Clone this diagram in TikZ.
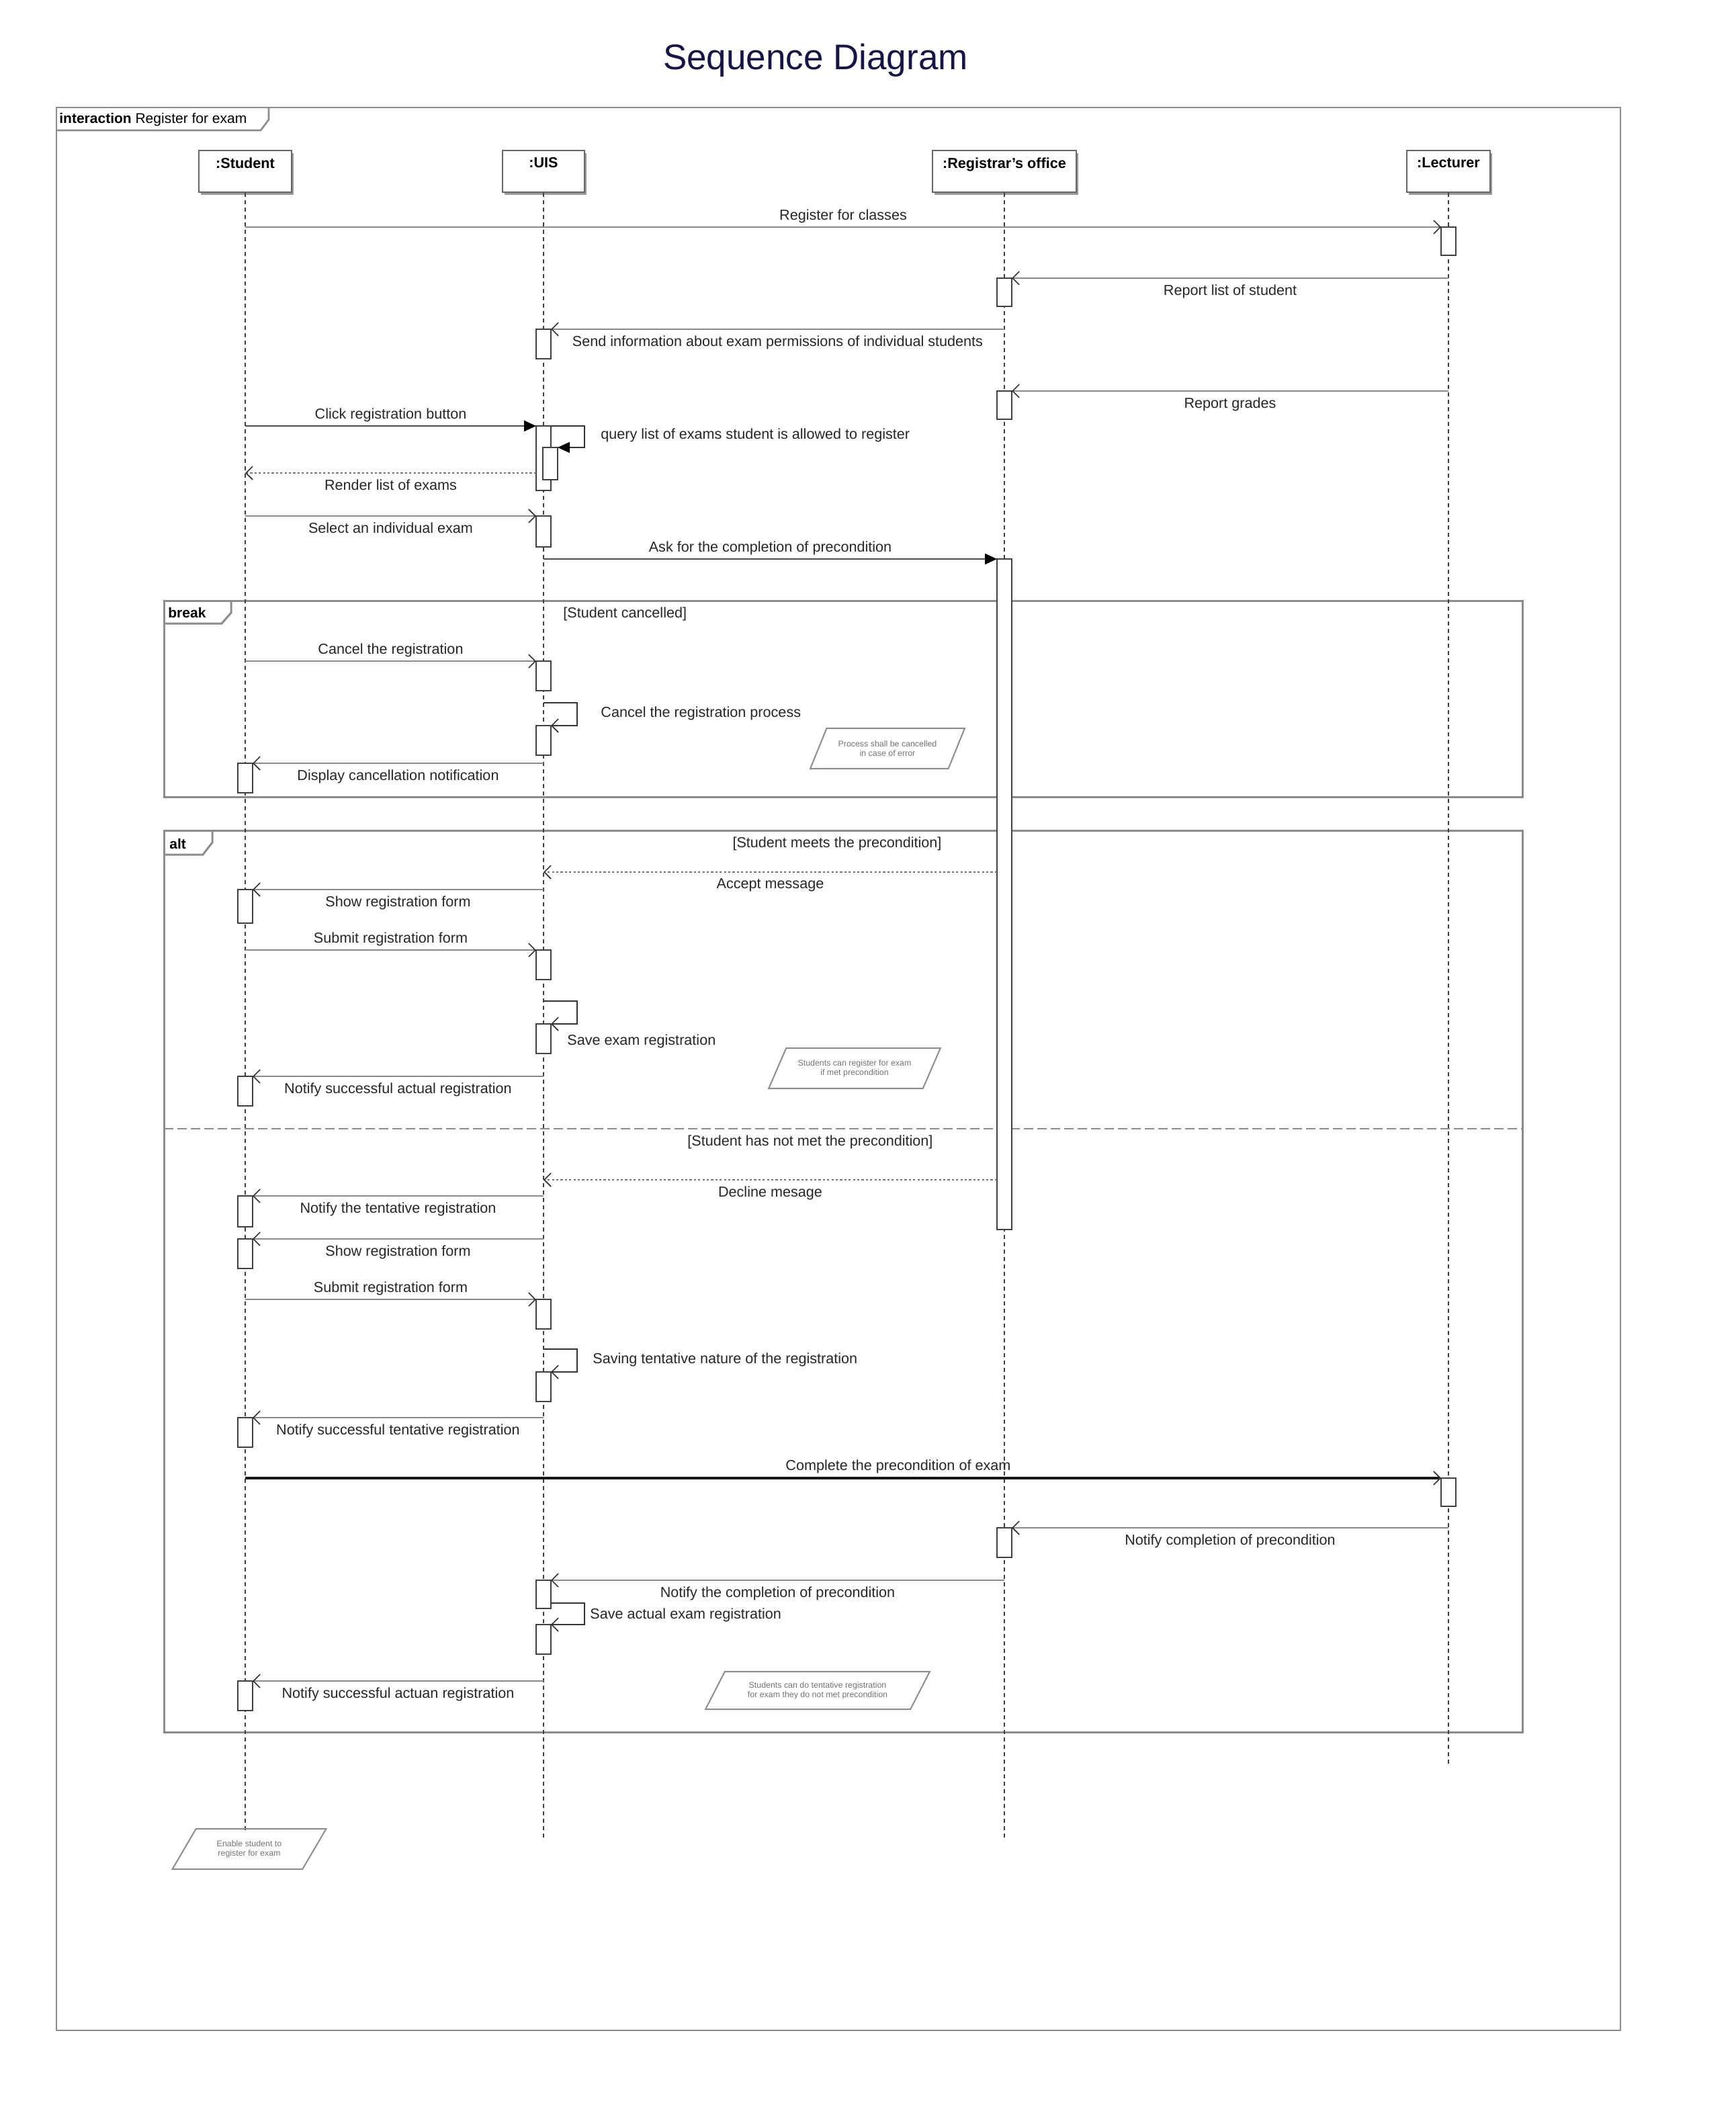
\documentclass[tikz,border=0pt]{standalone}
\usepackage{fontspec}
\setmainfont{Liberation Sans}
\usetikzlibrary{arrows.meta,shapes.geometric,shadows}
\definecolor{navy}{RGB}{22,22,70}
\newcommand\ActBox[4]{\pgfmathsetmacro\ActH{#4-#3}\node[act, minimum height=\ActH pt, anchor=north] (#1) at (#2,#3) {};}
\begin{document}
\begin{tikzpicture}[x=1pt,y=-1pt,
  lifehead/.style={draw=black!60, line width=1pt, fill=white, minimum width=#1, minimum height=31pt, inner sep=0pt,
     drop shadow={shadow xshift=1.5pt, shadow yshift=-2pt, fill=black!40, opacity=1}},
  headtxt/.style={anchor=north, yshift=-4.5pt, font=\fontsize{10.8}{12}\selectfont\bfseries, inner sep=1pt},
  mlabel/.style={font=\fontsize{10.8}{12}\selectfont, text=black!85, inner sep=1pt},
  msg/.style={draw=black!45, line width=1.3pt, -{Straight Barb[length=5pt,width=10pt,line width=0.8pt,color=black!80]}},
  ret/.style={draw=black!55, line width=1pt, dash pattern=on 1.6pt off 1.6pt, -{Straight Barb[length=5pt,width=10pt,line width=0.8pt,color=black!80]}},
  sync/.style={draw=black!70, line width=1.2pt, -{Triangle[length=9pt,width=8pt,color=black]}},
  selfmsg/.style={draw=black!80, line width=0.8pt, -{Straight Barb[length=5pt,width=10pt,line width=0.8pt,color=black!80]}},
  selfsync/.style={draw=black!80, line width=0.8pt, -{Triangle[length=9pt,width=8pt,color=black]}},
  strongmsg/.style={msg, draw=black!90, line width=1.6pt},
  lifeln/.style={draw=black!75, line width=0.6pt, dash pattern=on 3pt off 2.5pt},
  act/.style={draw=black!75, fill=white, line width=0.8pt, minimum width=11pt, inner sep=0pt, outer sep=0pt},
  fragbox/.style={draw=black!45, line width=1.5pt},
  sepline/.style={draw=black!45, line width=1.2pt, dash pattern=on 7pt off 3pt},
  notebox/.style={trapezium, trapezium left angle=52, trapezium right angle=128, trapezium stretches=true,
     draw=black!45, line width=1pt, font=\fontsize{6.2}{7.2}\selectfont, text=black!55, align=center, inner sep=0.5pt},
  tabtxt/.style={font=\fontsize{10.5}{12}\selectfont, inner sep=1pt},
  lab above/.style={mlabel, midway, above=1.5pt},
  lab below/.style={mlabel, midway, below=3.5pt}
]
\useasboundingbox (0,0) rectangle (1292,1571);

% title
\node[font=\fontsize{26.5}{30}\selectfont, text=navy] (title) at (607,45) {Sequence Diagram};

% outer interaction frame
\draw[fragbox, line width=1.3pt] (42,80) rectangle (1206,1511);
\draw[fragbox, line width=1.3pt] (42,97) -- (194,97) -- (200,89) -- (200,80);
\node[tabtxt, anchor=west] (frm) at (43,89) {\textbf{interaction} Register for exam};

% combined fragments
\draw[fragbox] (122,447) rectangle (1133,593);
\draw[fragbox] (122,464) -- (165,464) -- (172,456) -- (172,447);
\node[tabtxt, anchor=west] (brk) at (124,456) {\textbf{break}};
\node[mlabel, anchor=west] (g1) at (418,457) {[Student cancelled]};

\draw[fragbox] (122,618) rectangle (1133,1289);
\draw[fragbox] (122,636) -- (151,636) -- (158,627) -- (158,618);
\node[tabtxt, anchor=west] (alt) at (125,628) {\textbf{alt}};
\node[mlabel] (g2) at (623,628) {[Student meets the precondition]};
\draw[sepline] (122,840) -- (1133,840);
\node[mlabel] (g3) at (603,850) {[Student has not met the precondition]};

% lifeline heads
\node[lifehead=69pt, label={[headtxt]north:{:Student}}] (S) at (182.5,127.5) {};
\node[lifehead=61pt, label={[headtxt]north:{:UIS}}] (U) at (404.5,127.5) {};
\node[lifehead=107pt, label={[headtxt]north:{:Registrar's office}}] (R) at (747.5,127.5) {};
\node[lifehead=62pt, label={[headtxt]north:{:Lecturer}}] (L) at (1078,127.5) {};

% lifelines
\coordinate (Sx) at (182.5,1362);
\coordinate (Ux) at (404.5,1370);
\coordinate (Rx) at (747.5,1370);
\coordinate (Lx) at (1078,1313);
\draw[lifeln] (S) -- (Sx);
\draw[lifeln] (U) -- (Ux);
\draw[lifeln] (R) -- (Rx);
\draw[lifeln] (L) -- (Lx);

% activations
\ActBox{aL1}{1078}{169}{190}
\ActBox{aL2}{1078}{1100}{1121}
\ActBox{aR1}{747.5}{207}{228}
\ActBox{aR2}{747.5}{291}{312}
\ActBox{aR3}{747.5}{416}{915}
\ActBox{aR4}{747.5}{1137}{1159}
\ActBox{aU1}{404.5}{245}{267}
\ActBox{aU2}{404.5}{317}{365}
\ActBox{aU2n}{409.5}{333}{357}
\ActBox{aU3}{404.5}{384}{407}
\ActBox{aU4}{404.5}{492}{514}
\ActBox{aU5}{404.5}{540}{562}
\ActBox{aU6}{404.5}{707}{729}
\ActBox{aU7}{404.5}{762}{784}
\ActBox{aU8}{404.5}{967}{989}
\ActBox{aU9}{404.5}{1021}{1043}
\ActBox{aU10}{404.5}{1176}{1197}
\ActBox{aU11}{404.5}{1209}{1231}
\ActBox{aS1}{182.5}{568}{590}
\ActBox{aS2}{182.5}{662}{687}
\ActBox{aS3}{182.5}{801}{823}
\ActBox{aS4}{182.5}{890}{913}
\ActBox{aS5}{182.5}{922}{944}
\ActBox{aS6}{182.5}{1055}{1077}
\ActBox{aS7}{182.5}{1251}{1273}

% messages
\draw[msg] (S |- aL1.north) -- (aL1.north west) node[lab above] {Register for classes};
\draw[msg] (L |- aR1.north) -- (aR1.north east) node[lab below] {Report list of student};
\draw[msg] (R |- aU1.north) -- (aU1.north east) node[lab below] {Send information about exam permissions of individual students};
\draw[msg] (L |- aR2.north) -- (aR2.north east) node[lab below] {Report grades};
\draw[sync] (S |- aU2.north) -- (aU2.north west) node[lab above] {Click registration button};
\draw[selfsync] (aU2.north east) -- ++(25,0) |- (aU2n.north east);
\node[mlabel, anchor=west] (q1) at (446,324) {query list of exams student is allowed to register};
\coordinate (r7) at (399,352);
\draw[ret] (r7) -- (S |- r7) node[lab below] {Render list of exams};
\draw[msg] (S |- aU3.north) -- (aU3.north west) node[lab below] {Select an individual exam};
\draw[sync] (U |- aR3.north) -- (aR3.north west) node[lab above] {Ask for the completion of precondition};

\draw[msg] (S |- aU4.north) -- (aU4.north west) node[lab above] {Cancel the registration};
\coordinate (c11) at (404.5,523);
\draw[selfmsg] (c11) -- ++(25,0) |- (aU5.north east);
\node[mlabel, anchor=west] (q2) at (446,531) {Cancel the registration process};
\draw[msg] (U |- aS1.north) -- (aS1.north east) node[lab below] {Display cancellation notification};

\coordinate (c13) at (404.5,649);
\draw[ret] (aR3.west |- c13) -- (c13) node[lab below] {Accept message};
\draw[msg] (U |- aS2.north) -- (aS2.north east) node[lab below] {Show registration form};
\draw[msg] (S |- aU6.north) -- (aU6.north west) node[lab above] {Submit registration form};
\coordinate (c16) at (404.5,745);
\draw[selfmsg] (c16) -- ++(25,0) |- (aU7.north east);
\node[mlabel, anchor=west] (q3) at (421,775) {Save exam registration};
\draw[msg] (U |- aS3.north) -- (aS3.north east) node[lab below] {Notify successful actual registration};

\coordinate (c18) at (404.5,878);
\draw[ret] (aR3.west |- c18) -- (c18) node[lab below] {Decline mesage};
\draw[msg] (U |- aS4.north) -- (aS4.north east) node[lab below] {Notify the tentative registration};
\draw[msg] (U |- aS5.north) -- (aS5.north east) node[lab below] {Show registration form};
\draw[msg] (S |- aU8.north) -- (aU8.north west) node[lab above] {Submit registration form};
\coordinate (c22) at (404.5,1004);
\draw[selfmsg] (c22) -- ++(25,0) |- (aU9.north east);
\node[mlabel, anchor=west] (q4) at (440,1012) {Saving tentative nature of the registration};
\draw[msg] (U |- aS6.north) -- (aS6.north east) node[lab below] {Notify successful tentative registration};

\draw[strongmsg] (S |- aL2.north) -- (aL2.north west) node[mlabel, pos=0.546, above=1.5pt] {Complete the precondition of exam};
\draw[msg] (L |- aR4.north) -- (aR4.north east) node[lab below] {Notify completion of precondition};
\draw[msg] (R |- aU10.north) -- (aU10.north east) node[lab below] {Notify the completion of precondition};
\coordinate (c27) at (410,1193);
\draw[selfmsg] (c27) -- ++(25,0) |- (aU11.north east);
\node[mlabel, anchor=west] (q5) at (438,1202) {Save actual exam registration};
\draw[msg] (U |- aS7.north) -- (aS7.north east) node[lab below] {Notify successful actuan registration};

% notes
\node[notebox, minimum width=115pt, minimum height=30pt] (n1) at (660.5,557) {Process shall be cancelled\\in case of error};
\node[notebox, minimum width=128pt, minimum height=30pt] (n2) at (636,795) {Students can register for exam\\if met precondition};
\node[notebox, minimum width=167pt, minimum height=28pt] (n3) at (608.5,1258) {Students can do tentative registration\\for exam they do not met precondition};
\node[notebox, minimum width=115pt, minimum height=30pt] (n4) at (185.5,1376) {Enable student to\\register for exam};
\end{tikzpicture}
\end{document}
